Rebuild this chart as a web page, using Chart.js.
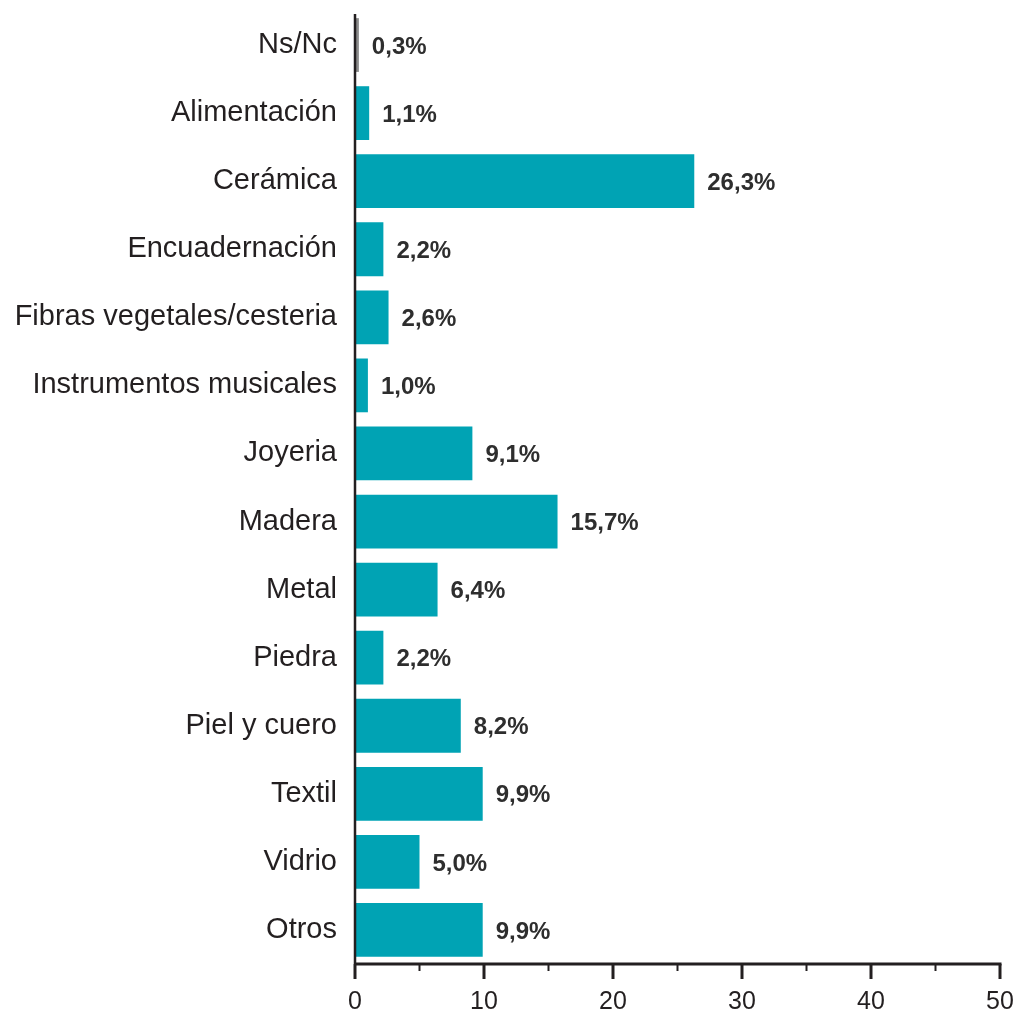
<!DOCTYPE html>
<html>
<head>
<meta charset="utf-8">
<script src="https://cdn.jsdelivr.net/npm/chart.js@4"></script>
<style>
    html, body { margin: 0; padding: 0; background: #fff; }
    #wrap { width: 1025px; height: 1018px; position: relative; }
</style>
</head>
<body>
<div id="wrap"><canvas id="chart"></canvas></div>
<script>
// Sectores artesanos (%)
const categories = ['Ns/Nc', 'Alimentación', 'Cerámica', 'Encuadernación', 'Fibras vegetales/cesteria',
    'Instrumentos musicales', 'Joyeria', 'Madera', 'Metal', 'Piedra', 'Piel y cuero', 'Textil', 'Vidrio', 'Otros'];
const values = [0.3, 1.1, 26.3, 2.2, 2.6, 1.0, 9.1, 15.7, 6.4, 2.2, 8.2, 9.9, 5.0, 9.9];
const xTicks = [0, 10, 20, 30, 40, 50];
const minorTicks = [5, 15, 25, 35, 45];

const TEAL = '#00a3b4';
const INK = '#231f20';
const FONT = "'Liberation Sans', Arial, sans-serif";

// value labels at the end of each bar
const valueLabels = {
    id: 'valueLabels',
    afterDatasetsDraw(chart) {
        const ctx = chart.ctx;
        const meta = chart.getDatasetMeta(0);
        ctx.save();
        ctx.font = 'bold 24px ' + FONT;
        ctx.fillStyle = '#2e2e2e';
        ctx.textBaseline = 'middle';
        ctx.textAlign = 'left';
        meta.data.forEach((bar, i) => {
            const txt = values[i].toFixed(1).replace('.', ',') + '%';
            ctx.fillText(txt, bar.x + 13, bar.y + 2);
        });
        ctx.restore();
    }
};

// axis lines and major/minor ticks
const axisTicks = {
    id: 'axisTicks',
    afterDraw(chart) {
        const ctx = chart.ctx;
        const x = chart.scales.x;
        const area = chart.chartArea;
        ctx.save();
        ctx.strokeStyle = INK;
        ctx.lineWidth = 3;
        ctx.beginPath();
        ctx.moveTo(area.left, area.bottom);
        ctx.lineTo(x.getPixelForValue(50) + 1.5, area.bottom);
        ctx.stroke();
        ctx.lineWidth = 2.5;
        ctx.beginPath();
        ctx.moveTo(area.left, area.top + 3);
        ctx.lineTo(area.left, area.bottom);
        ctx.stroke();
        ctx.lineWidth = 3;
        xTicks.forEach(v => {
            const px = x.getPixelForValue(v);
            ctx.beginPath();
            ctx.moveTo(px, area.bottom);
            ctx.lineTo(px, area.bottom + 15);
            ctx.stroke();
        });
        ctx.lineWidth = 2;
        minorTicks.forEach(v => {
            const px = x.getPixelForValue(v);
            ctx.beginPath();
            ctx.moveTo(px, area.bottom);
            ctx.lineTo(px, area.bottom + 7);
            ctx.stroke();
        });
        ctx.restore();
    }
};

new Chart(document.getElementById('chart'), {
    type: 'bar',
    data: {
        labels: categories,
        datasets: [{
            data: values,
            backgroundColor: values.map((v, i) => i === 0 ? '#8a8a8a' : TEAL),
            borderWidth: 0,
            barPercentage: 0.79,
            categoryPercentage: 1.0
        }]
    },
    options: {
        indexAxis: 'y',
        responsive: true,
        maintainAspectRatio: false,
        animation: false,
        layout: { padding: { top: 11, right: 25, left: 0, bottom: 0 } },
        plugins: {
            legend: { display: false },
            title: { display: false },
            tooltip: { enabled: false }
        },
        scales: {
            x: {
                min: 0,
                max: 50,
                afterBuildTicks: scale => { scale.ticks = xTicks.map(v => ({ value: v })); },
                afterFit: scale => {
                    scale.height = 54;
                    scale.paddingLeft = 0;
                    scale.paddingRight = 0;
                },
                grid: { display: false, drawTicks: false },
                border: { display: false },
                ticks: {
                    color: INK,
                    font: { family: FONT, size: 25 },
                    padding: 23,
                    maxRotation: 0
                }
            },
            y: {
                afterFit: scale => {
                    scale.width = 355;
                    scale.paddingTop = 0;
                    scale.paddingBottom = 0;
                },
                grid: { display: false, drawTicks: false },
                border: { display: false },
                ticks: {
                    color: INK,
                    font: { family: FONT, size: 29 },
                    padding: 18
                }
            }
        }
    },
    plugins: [valueLabels, axisTicks]
});
</script>
</body>
</html>
